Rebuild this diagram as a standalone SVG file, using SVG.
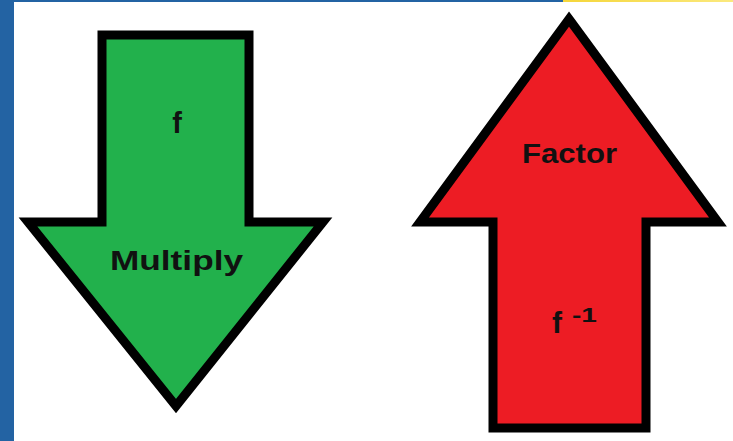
<svg xmlns="http://www.w3.org/2000/svg" width="733" height="441" viewBox="0 0 733 441">
  <style>
    .arrow { stroke: #000; stroke-width: 9; stroke-linejoin: miter; stroke-miterlimit: 10; }
    .lbl { font-family: "Liberation Sans", Arial, sans-serif; font-weight: bold; fill: #111; }
  </style>
  <defs>
    <linearGradient id="yel" x1="0" y1="0" x2="1" y2="0">
      <stop offset="0" stop-color="#F5D63A"/>
      <stop offset="1" stop-color="#FBE97E"/>
    </linearGradient>
  </defs>
  <rect x="0" y="0" width="733" height="441" fill="#fff"/>
  <g id="frame">
    <rect x="0" y="0" width="14" height="441" fill="#2363A3"/>
    <rect x="0" y="0" width="563" height="2" fill="#2363A3"/>
    <rect x="563" y="0" width="170" height="2" fill="url(#yel)"/>
  </g>
  <g id="multiply">
    <polygon class="arrow" fill="#22B14C" points="102,35 249,35 249,222 323,222 176,406 28,222 102,222"/>
    <text class="lbl" x="177" y="133" font-size="29" text-anchor="middle">f</text>
    <text class="lbl" x="110" y="270" font-size="28" textLength="133" lengthAdjust="spacingAndGlyphs">Multiply</text>
  </g>
  <g id="factor">
    <polygon class="arrow" fill="#ED1C24" points="569,19 718,222 646,222 646,428 493,428 493,222 420,222"/>
    <text class="lbl" x="522" y="163" font-size="28" textLength="95" lengthAdjust="spacingAndGlyphs">Factor</text>
    <text class="lbl" x="557" y="333" font-size="30" text-anchor="middle">f</text>
    <text class="lbl" x="572" y="322" font-size="20" textLength="25" lengthAdjust="spacingAndGlyphs">-1</text>
  </g>
  <g id="connectors"/>
</svg>
